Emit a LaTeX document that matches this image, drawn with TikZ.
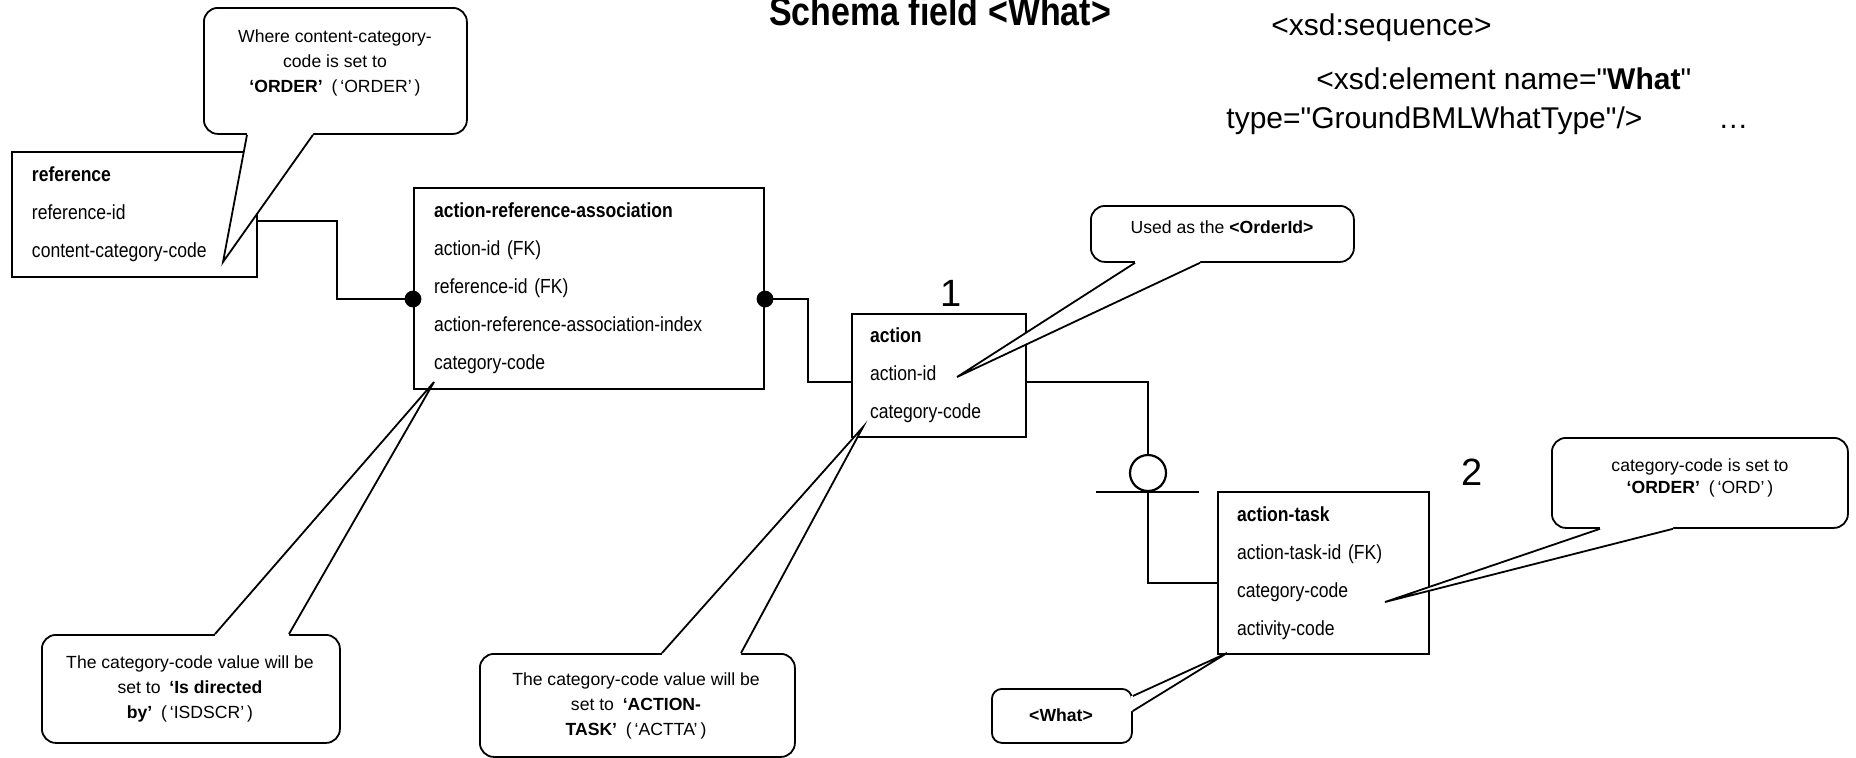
\documentclass[tikz,border=0pt]{standalone}
\usepackage{fontspec}
\setmainfont{Liberation Sans}
\newfontfamily\entityfont{Liberation Sans}[FakeStretch=0.86]
\newfontfamily\headfont{Liberation Sans}[FakeStretch=0.85]
% no TeX ligature mapping here, so " stays a straight quote
\newfontfamily\xsdfont{Liberation Sans}
\usetikzlibrary{calc}

% pointer of a note: base point A, tip, base point B, inward shift
\newcommand\notepointer[4]{%
  \fill[white] ($#1+#4$) -- #1 -- #2 -- #3 -- ($#3+#4$) -- cycle;
  \draw[pointer] #1 -- #2 -- #3;}

\begin{document}
\begin{tikzpicture}[x=0.5pt,y=-0.5pt,
  entity/.style={draw, fill=white, line width=1pt, anchor=north west,
    inner xsep=10pt, inner ysep=0pt, align=left,
    font=\entityfont\fontsize{10.2}{19}\selectfont},
  conn/.style={line width=1.3pt},
  notebox/.style={draw, fill=white, line width=0.9pt, rounded corners=7pt,
    anchor=north west, inner sep=0pt},
  notetext/.style={align=center, inner sep=0pt,
    font=\fontsize{8.8}{12.4}\selectfont},
  pointer/.style={line width=0.9pt, line join=miter},
  xsd/.style={anchor=base west, inner sep=0pt, font=\xsdfont\fontsize{15}{18}\selectfont},
  cardinal/.style={anchor=base, inner sep=0pt, font=\fontsize{19}{22}\selectfont}]

\useasboundingbox (0,0) rectangle (1856,757);

% ---------- heading and schema excerpt ----------
\node[anchor=base, inner sep=0pt, font=\headfont\bfseries\fontsize{20}{24}\selectfont]
  (title) at (940,25) {Schema field <What>};
\node[xsd] (seq)  at (1271,35)  {<xsd:sequence>};
\node[xsd] (elem) at (1316,89)  {<xsd:element name="\textbf{What}"};
\node[xsd] (type) at (1226,128) {type="GroundBMLWhatType"/>};
\node[xsd] (more) at (1718,128) {…};

% ---------- entities ----------
\node[entity, minimum width=122.5pt, minimum height=62.5pt, text width=102.5pt]
  (ref) at (11,151) {\textbf{reference}\\reference-id\\content-category-code};
\node[entity, minimum width=175pt, minimum height=100.5pt, text width=155pt]
  (ara) at (413,187) {\textbf{action-reference-association}\\action-id (FK)\\reference-id (FK)\\action-reference-association-index\\category-code};
\node[entity, minimum width=87pt, minimum height=61.5pt, text width=69pt, inner xsep=9pt]
  (act) at (851,313) {\textbf{action}\\action-id\\category-code};
\node[entity, minimum width=105.5pt, minimum height=81pt, text width=86.5pt, inner xsep=9.5pt]
  (task) at (1217,491) {\textbf{action-task}\\action-task-id (FK)\\category-code\\activity-code};

% ---------- relationship lines ----------
\coordinate (refPort)  at ($(ref.north east)+(0,70)$);
\coordinate (araL)     at ($(ara.north west)+(0,112)$);
\coordinate (araR)     at ($(ara.north east)+(0,112)$);
\coordinate (actL)     at ($(act.north west)+(0,69)$);
\coordinate (actR)     at ($(act.north east)+(0,69)$);
\coordinate (taskPort) at ($(task.north west)+(0,92)$);
\node[draw, circle, line width=1.1pt, minimum size=18pt, inner sep=0pt] (opt) at (1148,473) {};

\draw[conn] (refPort) -- ++(79,0) |- (araL);
\draw[conn] (araR) -- ++(43,0) |- (actL);
\draw[conn] (actR) -| (opt.north);
\draw[conn] ($(opt.south)+(-52,0)$) -- ($(opt.south)+(51,0)$);
\draw[conn] (opt.south) |- (taskPort);
\fill (araL) circle (4.2pt);
\fill (araR) circle (4.2pt);

\node[cardinal] (one) at (951,306) {1};
\node[cardinal] (two) at (1472,485) {2};

% ---------- notes ----------
% content-category-code note
\node[notebox, minimum width=131.5pt, minimum height=63pt] (whereBox) at (203,7) {};
\coordinate (whereA) at ($(whereBox.south west)+(44,0)$);
\coordinate (whereB) at ($(whereBox.south west)+(110,0)$);
\coordinate (whereTip) at (223,262);
\notepointer{(whereA)}{(whereTip)}{(whereB)}{(0,-2)}
\node[notetext] (whereTxt) at (335,63)
  {Where content-category-\\code is set to\\\textbf{‘ORDER’}\enspace(\,‘ORDER’\,)};

% action-id note
\node[notebox, minimum width=131.5pt, minimum height=28pt] (usedBox) at (1090,205) {};
\coordinate (usedA) at ($(usedBox.south west)+(45,0)$);
\coordinate (usedB) at ($(usedBox.south west)+(110,0)$);
\coordinate (usedTip) at (957,377);
\notepointer{(usedA)}{(usedTip)}{(usedB)}{(0,-2)}
\node[notetext] (usedTxt) at (1222,227) {Used as the \textbf{<OrderId>}};

% action-task category-code note
\node[notebox, minimum width=148pt, minimum height=45pt] (ordBox) at (1551,437) {};
\coordinate (ordA) at ($(ordBox.south west)+(49,0)$);
\coordinate (ordB) at ($(ordBox.south west)+(122,0)$);
\coordinate (ordTip) at (1385,602);
\notepointer{(ordA)}{(ordTip)}{(ordB)}{(0,-2)}
\node[notetext, font=\fontsize{8.8}{10.6}\selectfont] (ordTxt) at (1700,478)
  {category-code is set to\\\textbf{‘ORDER’}\enspace(\,‘ORD’\,)};

% association category-code note
\node[notebox, minimum width=149pt, minimum height=54pt] (dirBox) at (41,634) {};
\coordinate (dirA) at ($(dirBox.north west)+(174,0)$);
\coordinate (dirB) at ($(dirBox.north west)+(248,0)$);
\coordinate (dirTip) at (434,382);
\notepointer{(dirA)}{(dirTip)}{(dirB)}{(0,2)}
\node[notetext] (dirTxt) at (190,689)
  {The category-code value will be\\set to\enspace\textbf{‘Is directed}\\\textbf{by’}\enspace(\,‘ISDSCR’\,)};

% action category-code note
\node[notebox, minimum width=157.5pt, minimum height=51.5pt] (ctaBox) at (479,653) {};
\coordinate (ctaA) at ($(ctaBox.north west)+(183,0)$);
\coordinate (ctaB) at ($(ctaBox.north west)+(262,0)$);
\coordinate (ctaTip) at (863,427);
\notepointer{(ctaA)}{(ctaTip)}{(ctaB)}{(0,2)}
\node[notetext] (ctaTxt) at (636,706)
  {The category-code value will be\\set to\enspace\textbf{‘ACTION-}\\\textbf{TASK’}\enspace(\,‘ACTTA’\,)};

% schema field note
\node[notebox, rounded corners=5pt, minimum width=70pt, minimum height=27pt] (whatBox) at (991,688) {};
\coordinate (whatA) at ($(whatBox.north east)+(0,8)$);
\coordinate (whatB) at ($(whatBox.north east)+(0,23)$);
\coordinate (whatTip) at (1227,653);
\notepointer{(whatA)}{(whatTip)}{(whatB)}{(-2,0)}
\node[notetext] (whatTxt) at (1061,715) {\textbf{<What>}};

\end{tikzpicture}
\end{document}
